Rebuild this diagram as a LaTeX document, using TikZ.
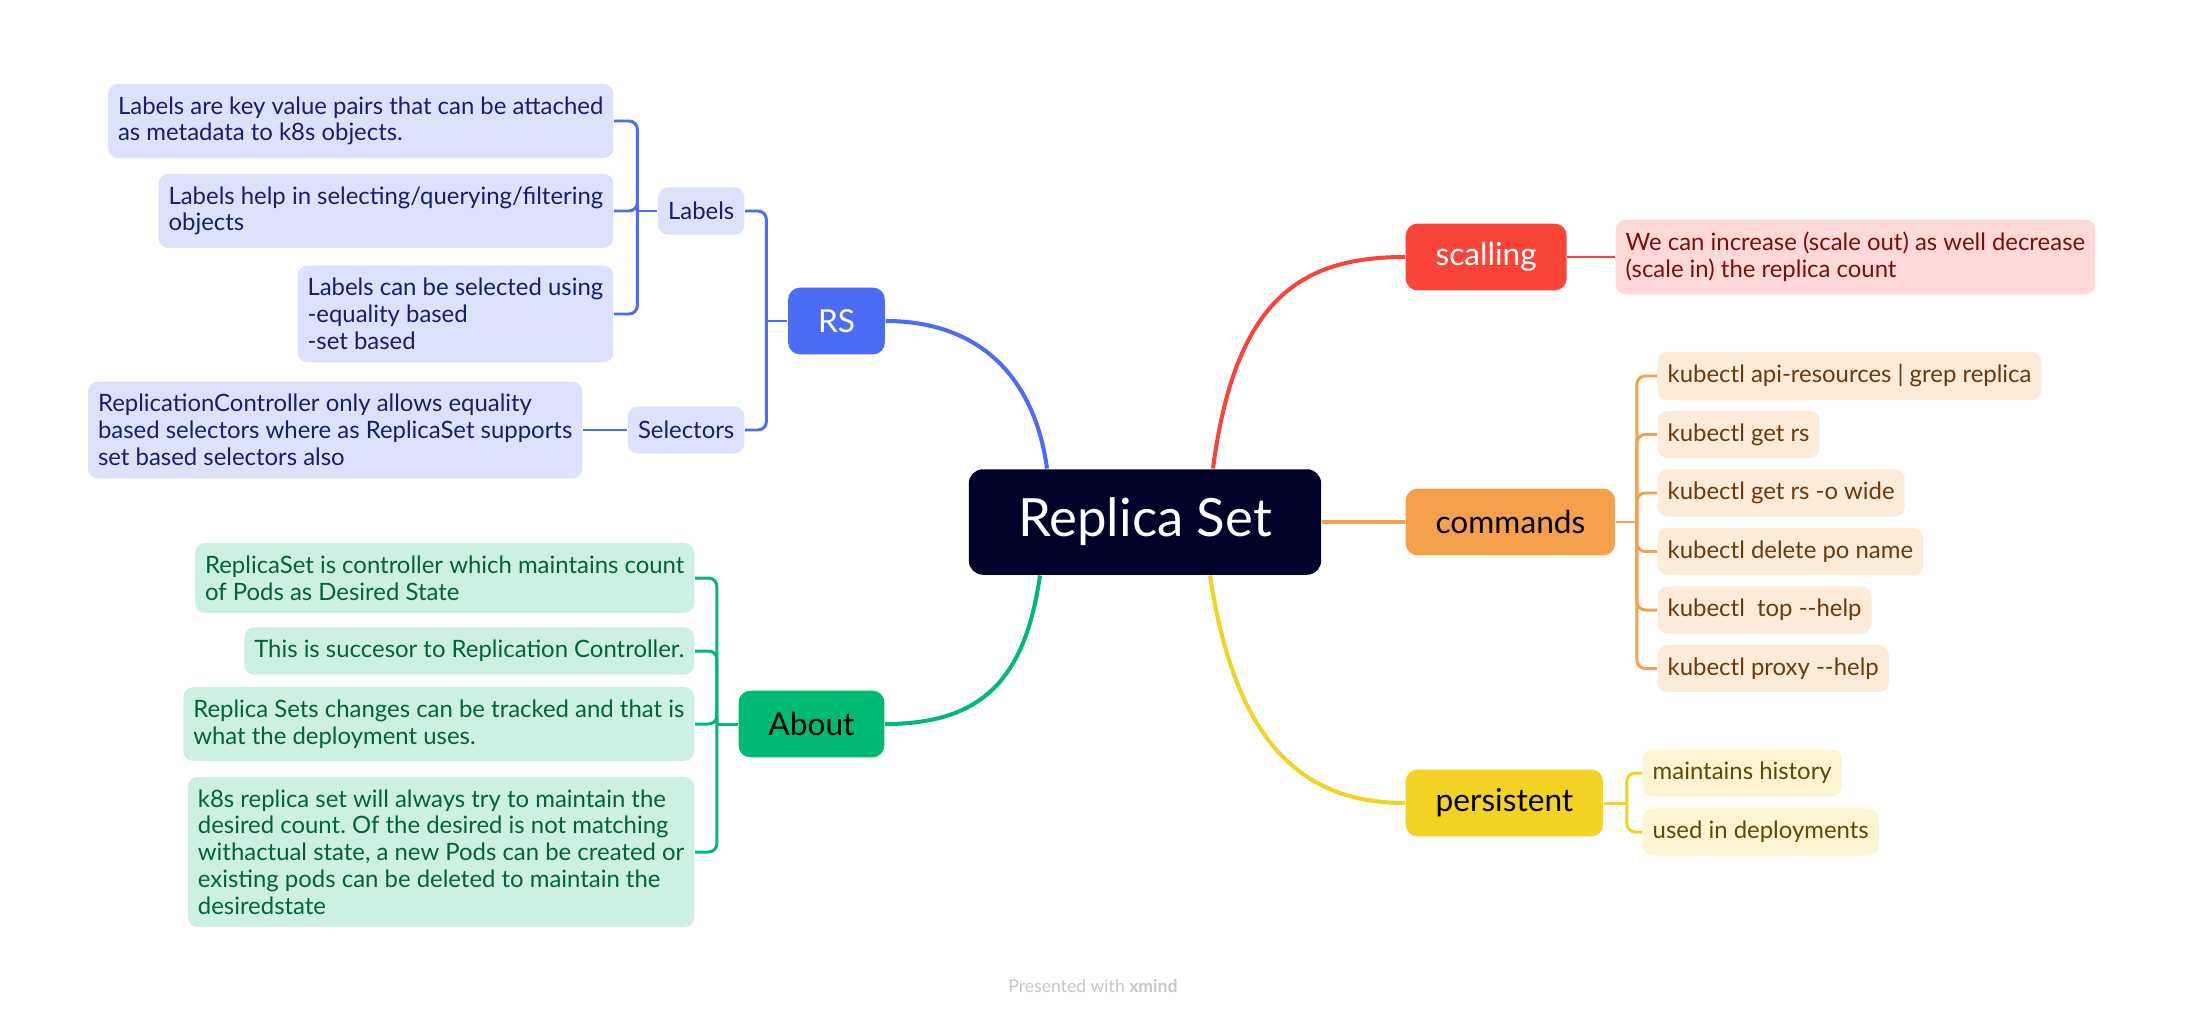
\documentclass[tikz,border=0pt]{standalone}
\usepackage{fontspec}
\setmainfont{Lato}
\usetikzlibrary{calc}
\frenchspacing

\definecolor{rootbg}{HTML}{000229}
\definecolor{rsblue}{HTML}{4A6CF7}
\definecolor{rslight}{HTML}{DCE1FC}
\definecolor{rstext}{HTML}{14206E}
\definecolor{scred}{HTML}{FA4339}
\definecolor{sclight}{HTML}{FFD9D7}
\definecolor{sctext}{HTML}{7A0F0A}
\definecolor{cmdorange}{HTML}{F5A04B}
\definecolor{cmdlight}{HTML}{FDEBDA}
\definecolor{cmdtext}{HTML}{6B3A07}
\definecolor{persyellow}{HTML}{F2D324}
\definecolor{perslight}{HTML}{FDF5D1}
\definecolor{perstext}{HTML}{5C4C00}
\definecolor{abtgreen}{HTML}{00BA74}
\definecolor{abtlight}{HTML}{CCF1E3}
\definecolor{abttext}{HTML}{00633D}

\tikzset{
    root/.style={rounded corners=4pt, fill=rootbg, text=white, inner xsep=14pt,
        minimum height=30pt, font=\fontsize{15}{18}\selectfont},
    topic/.style={rounded corners=3.4pt, inner xsep=8.5pt, minimum height=19pt,
        font=\fontsize{9}{11}\selectfont},
    leaf/.style={rounded corners=2.8pt, inner xsep=2.85pt, inner ysep=3.6pt,
        minimum height=13.4pt, align=left, font=\fontsize{6.8}{7.6}\selectfont},
    branch/.style={line width=1.15pt},
    twig/.style={line width=0.85pt, rounded corners=2.4pt},
}

\begin{document}
\begin{tikzpicture}[x=0.01cm, y=-0.01cm]
            \useasboundingbox (0,0) rectangle (2187,1018);

            \node[root] (root) at (1145,522) {Replica Set};

            \node[topic, fill=rsblue, text=white] (rs) at (836.5,321) {RS};
            \node[topic, fill=abtgreen, text=black] (about) at (811.5,724) {About};
            \node[topic, fill=scred, text=white, anchor=west] (scale) at (1405,257) {scalling};
            \node[topic, fill=cmdorange, text=black, anchor=west] (commands) at (1405,522) {commands};
            \node[topic, fill=persyellow, text=black, anchor=west] (persist) at (1405,803) {persistent};

            \draw[branch, rsblue] ($(root.north)+(-98,0)$) .. controls +(-12,-89) and +(96,0) .. (rs.east);
            \draw[branch, scred] ($(root.north)+(68,0)$) .. controls +(22,-169) and +(-105,0) .. (scale.west);
            \draw[branch, cmdorange] (root.east) -- (commands.west);
            \draw[branch, abtgreen] ($(root.south)+(-105,0)$) .. controls +(-15,105) and +(96,0) .. (about.east);
            \draw[branch, persyellow] ($(root.south)+(65,0)$) .. controls +(25,165) and +(-105,0) .. (persist.west);

            % RS
            \node[leaf, fill=rslight, text=rstext, anchor=east] (labels) at (745,211) {Labels};
            \node[leaf, fill=rslight, text=rstext, anchor=east] (selectors) at (745,430) {Selectors};
            \coordinate (rsfork) at ($(rs.west)+(-21,0)$);
            \draw[twig, rsblue] (rs.west) -- (rsfork);
            \foreach \n in {labels,selectors}
              \draw[twig, rsblue] (rsfork) |- (\n.east);

            \node[leaf, fill=rslight, text=rstext, anchor=east] (lab1) at (614,121)
              {Labels are key value pairs that can be attached\\as metadata to k8s objects.};
            \node[leaf, fill=rslight, text=rstext, anchor=east] (lab2) at (614,211)
              {Labels help in selecting/querying/filtering\\objects};
            \node[leaf, fill=rslight, text=rstext, anchor=east] (lab3) at (614,314)
              {Labels can be selected using\\-equality based\\-set based};
            \coordinate (labfork) at ($(labels.west)+(-20,0)$);
            \draw[twig, rsblue] (labels.west) -- (labfork);
            \foreach \i in {1,...,3}
              \draw[twig, rsblue] (labfork) |- (lab\i.east);

            \node[leaf, fill=rslight, text=rstext, anchor=east] (sel1) at (583,430)
              {ReplicationController only allows equality\\based selectors where as ReplicaSet supports\\set based selectors also};
            \draw[twig, rsblue] (selectors.west) -- (sel1.east);

            % About
            \node[leaf, fill=abtlight, text=abttext, anchor=east] (abt1) at (695,578)
              {ReplicaSet is controller which maintains count\\of Pods as Desired State};
            \node[leaf, fill=abtlight, text=abttext, anchor=east] (abt2) at (695,651)
              {This is succesor to Replication Controller.};
            \node[leaf, fill=abtlight, text=abttext, anchor=east] (abt3) at (695,724)
              {Replica Sets changes can be tracked and that is\\what the deployment uses.};
            \node[leaf, fill=abtlight, text=abttext, anchor=east] (abt4) at (695,852)
              {k8s replica set will always try to maintain the\\desired count. Of the desired is not matching\\withactual state, a new Pods can be created or\\existing pods can be deleted to maintain the\\desiredstate};
            \coordinate (abtfork) at ($(about.west)+(-21,0)$);
            \draw[twig, abtgreen] (about.west) -- (abtfork);
            \foreach \i in {1,...,4}
              \draw[twig, abtgreen] (abtfork) |- (abt\i.east);

            % scalling
            \node[leaf, fill=sclight, text=sctext, anchor=west] (sc1) at (1615,257)
              {We can increase (scale out) as well decrease\\(scale in) the replica count};
            \draw[twig, scred] (scale.east) -- (sc1.west);

            % commands
            \foreach \t [count=\i] in {kubectl api-resources | grep replica, kubectl get rs,
                kubectl get rs -o wide, kubectl delete po name, kubectl\ \ top -{}-help, kubectl proxy -{}-help}
              \node[leaf, fill=cmdlight, text=cmdtext, anchor=west] (cmd\i) at (1657,{376+58.5*(\i-1)}) {\t};
            \coordinate (cmdfork) at ($(commands.east)+(21,0)$);
            \draw[twig, cmdorange] (commands.east) -- (cmdfork);
            \foreach \i in {1,...,6}
              \draw[twig, cmdorange] (cmdfork) |- (cmd\i.west);

            % persistent
            \node[leaf, fill=perslight, text=perstext, anchor=west] (pers1) at (1642,773) {maintains history};
            \node[leaf, fill=perslight, text=perstext, anchor=west] (pers2) at (1642,832) {used in deployments};
            \coordinate (persfork) at ($(persist.east)+(23,0)$);
            \draw[twig, persyellow] (persist.east) -- (persfork);
            \foreach \i in {1,2}
              \draw[twig, persyellow] (persfork) |- (pers\i.west);

            \node[text=black!22, font=\fontsize{5}{6}\selectfont] (footer) at (1093,986)
              {Presented with \textbf{xmind}};
\end{tikzpicture}
\end{document}
